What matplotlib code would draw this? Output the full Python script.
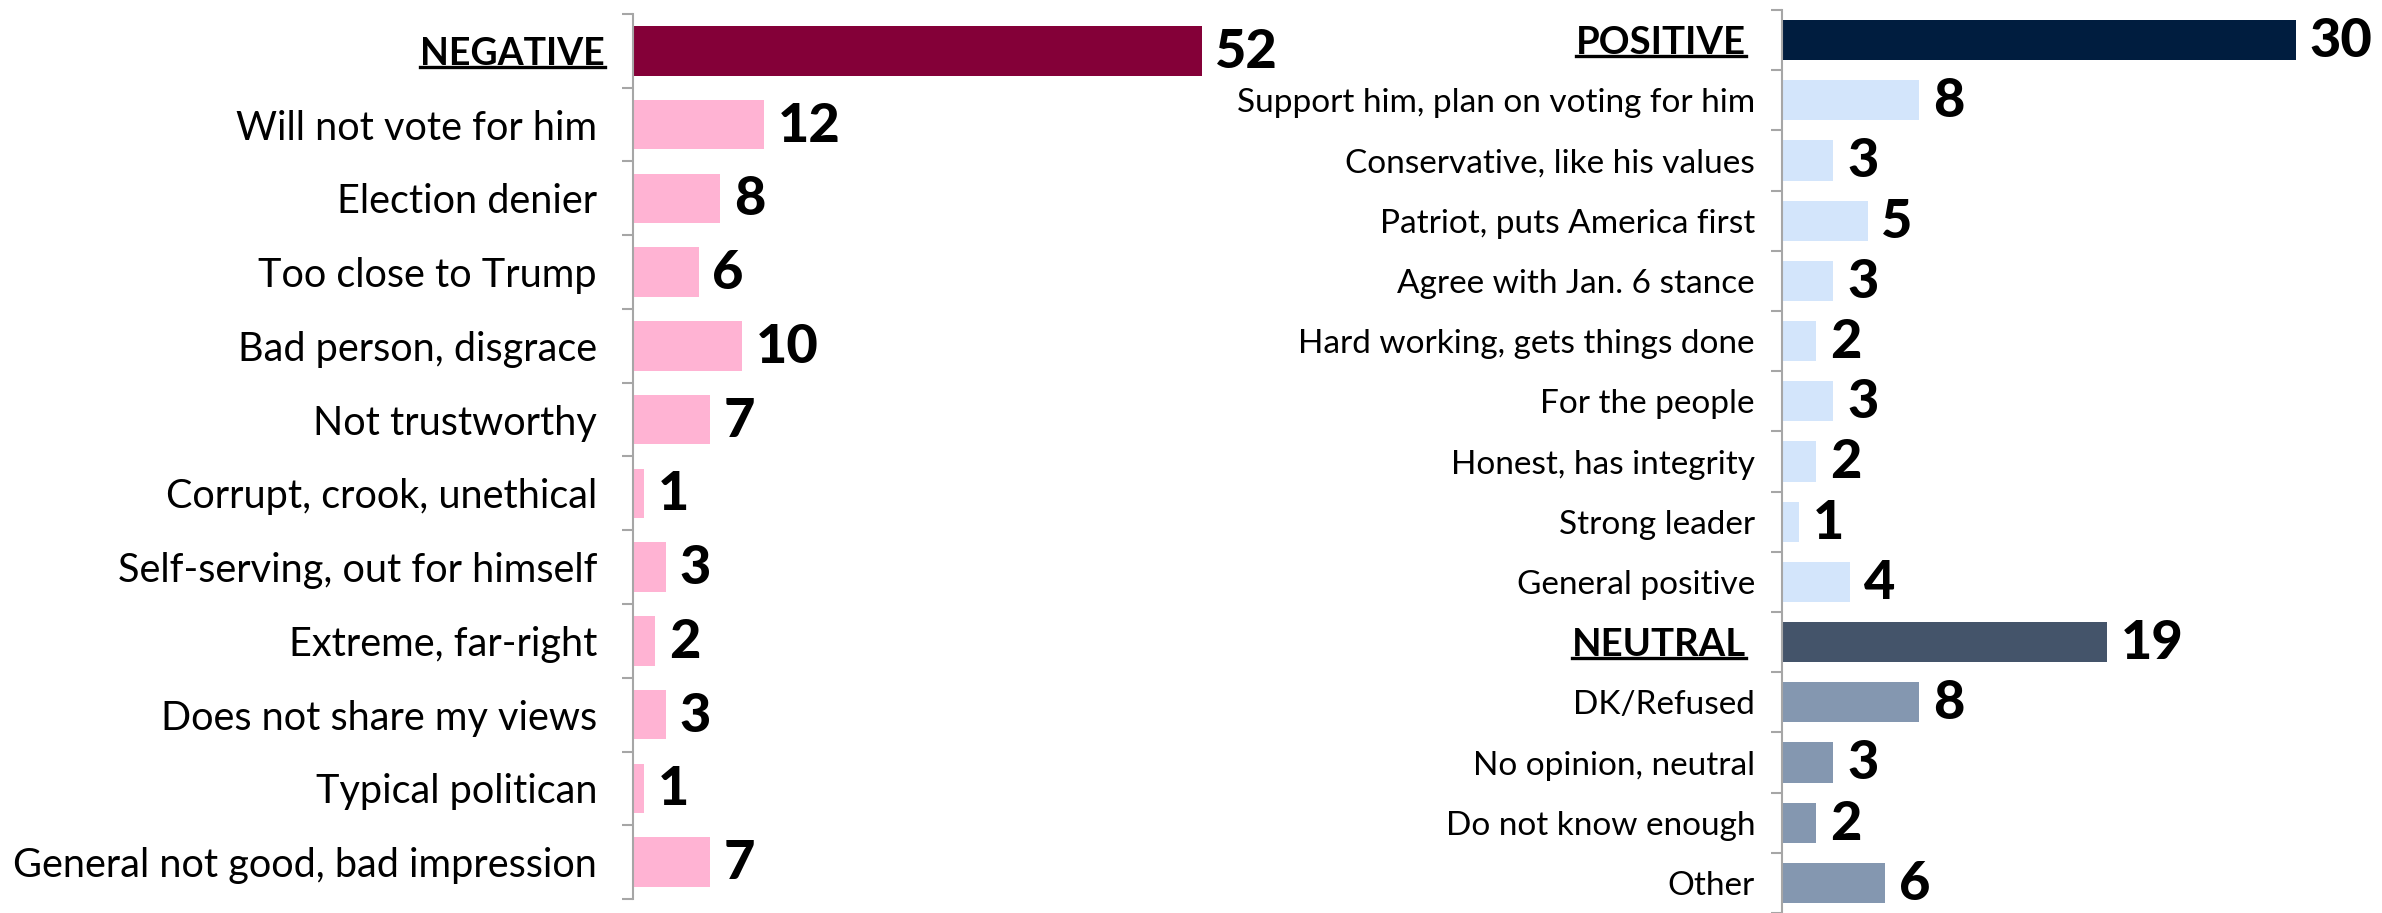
import matplotlib
matplotlib.use("Agg")
import matplotlib.pyplot as plt
from matplotlib.lines import Line2D
import matplotlib.transforms as mtransforms

# ---------------- data ----------------
neg_labels = ["NEGATIVE", "Will not vote for him", "Election denier", "Too close to Trump",
              "Bad person, disgrace", "Not trustworthy", "Corrupt, crook, unethical",
              "Self-serving, out for himself", "Extreme, far-right", "Does not share my views",
              "Typical politican", "General not good, bad impression"]
neg_values = [52, 12, 8, 6, 10, 7, 1, 3, 2, 3, 1, 7]

pos_labels = ["POSITIVE", "Support him, plan on voting for him", "Conservative, like his values",
              "Patriot, puts America first", "Agree with Jan. 6 stance",
              "Hard working, gets things done", "For the people", "Honest, has integrity",
              "Strong leader", "General positive", "NEUTRAL", "DK/Refused",
              "No opinion, neutral", "Do not know enough", "Other"]
pos_values = [30, 8, 3, 5, 3, 2, 3, 2, 1, 4, 19, 8, 3, 2, 6]

headers = {"NEGATIVE", "POSITIVE", "NEUTRAL"}

# ---------------- style ----------------
C_NEG_H = "#840038"
C_NEG = "#FFB3D3"
C_POS_H = "#001D3F"
C_POS = "#D3E5FB"
C_NEU_H = "#44546A"
C_NEU = "#8497B0"
GRAY = "#A6A6A6"

neg_colors = [C_NEG_H] + [C_NEG] * (len(neg_values) - 1)
pos_colors = [C_POS_H] + [C_POS] * 9 + [C_NEU_H] + [C_NEU] * 4

W, H = 2382, 913
fig = plt.figure(figsize=(W / 100, H / 100), dpi=100)

LABEL_FONT = "Lato"
VAL_FONT = "Lato"


def make_panel(rect, labels, values, colors, xmax, label_size, header_size, pad, hdr_shift):
    ax = fig.add_axes(rect)
    n = len(values)
    y = list(range(n))
    ax.barh(y, values, height=0.67, color=colors, zorder=2)
    ax.set_ylim(n - 0.5, -0.5)
    ax.set_xlim(0, xmax)
    for s in ["top", "right", "bottom"]:
        ax.spines[s].set_visible(False)
    ax.spines["left"].set_color(GRAY)
    ax.spines["left"].set_linewidth(1.5)
    ax.set_xticks([])
    ax.set_yticks(y)
    ax.set_yticklabels(labels)
    ax.tick_params(axis="y", which="major", length=0, pad=pad)
    ax.set_yticks([i - 0.5 for i in range(n + 1)], minor=True)
    ax.tick_params(axis="y", which="minor", length=8, width=1.5, color=GRAY, direction="out")
    for t, lab in zip(ax.get_yticklabels(), labels):
        t.set_fontfamily(LABEL_FONT)
        if lab in headers:
            t.set_fontweight("bold")
            t.set_fontsize(header_size)
            t.set_transform(t.get_transform() + mtransforms.ScaledTranslation(
                hdr_shift / 100, 0, fig.dpi_scale_trans))
        else:
            t.set_fontsize(label_size)
        t.set_color("black")
    for yi, v in zip(y, values):
        ax.annotate(f"{v}", (v, yi), xytext=(10, -1), textcoords="offset points",
                    va="center", ha="left", fontsize=39, fontweight="black",
                    fontfamily=VAL_FONT, color="black", annotation_clip=False)
    return ax


ax1 = make_panel([633 / W, 1 - 899 / H, 656 / W, 885 / H],
                 neg_labels, neg_values, neg_colors, 60, 28.5, 27, 36 / 100 * 72, 8)
ax2 = make_panel([1782 / W, 0.0, 582 / W, 903 / H],
                 pos_labels, pos_values, pos_colors, 34, 24, 27.5, 27 / 100 * 72, -9)

# underline header labels
fig.canvas.draw()
renderer = fig.canvas.get_renderer()
for ax, labels in [(ax1, neg_labels), (ax2, pos_labels)]:
    for t, lab in zip(ax.get_yticklabels(), labels):
        if lab in headers:
            bb = t.get_window_extent(renderer)
            yline = bb.y0 + 4
            fig.add_artist(Line2D([bb.x0 / W, bb.x1 / W], [yline / H, yline / H],
                                  transform=fig.transFigure, color="black", lw=2.4))

fig.savefig("out.png", dpi=100, facecolor="white")
